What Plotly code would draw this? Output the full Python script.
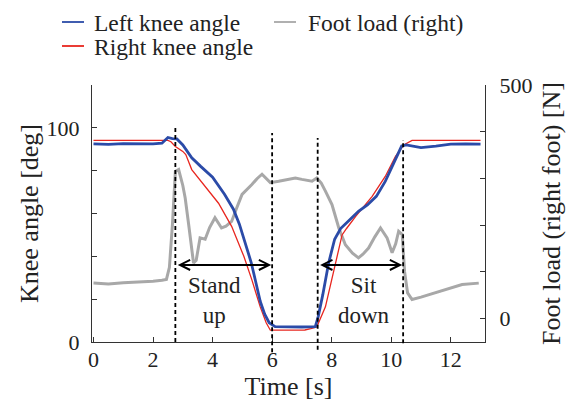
import plotly.graph_objects as go

# knee angles [deg]
left_t = [0, 0.5, 1.0, 1.5, 2.0, 2.3, 2.5, 2.65, 2.8, 3.0, 3.3, 3.6, 4.0, 4.4, 4.7, 4.9, 5.1,
          5.3, 5.45, 5.6, 5.75, 5.9, 6.1, 6.5, 7.0, 7.45, 7.55, 7.7, 7.9, 8.1, 8.3, 8.6, 8.9,
          9.2, 9.5, 9.8, 10.1, 10.35, 10.5, 11.0, 11.5, 12.0, 12.5, 13.0]
left_deg = [92.5, 92.3, 92.6, 92.4, 92.5, 92.8, 95.5, 95.0, 94.8, 92.0, 86.0, 82.0, 77.0, 69.0,
            62.0, 55.0, 46.0, 37.0, 28.0, 19.0, 13.0, 9.0, 7.2, 7.0, 7.0, 7.2, 12.0, 22.0, 37.0,
            48.0, 53.0, 57.0, 61.0, 64.0, 68.0, 75.0, 84.0, 91.5, 92.0, 90.8, 91.5, 92.4, 92.5, 92.4]

right_t = [0, 2.5, 2.6, 2.75, 3.0, 3.1, 3.3, 3.76, 4.2, 4.64, 5.05, 5.32, 5.6, 5.8, 5.94, 6.5,
           7.1, 7.3, 7.5, 7.79, 8.12, 8.35, 8.5, 8.8, 9.36, 9.8, 10.14, 10.42, 10.7, 13.0]
right_deg = [94.1, 94.1, 93.5, 91.3, 89.0, 87.5, 80.5, 72.6, 64.8, 54.0, 40.0, 29.0, 16.4, 9.0,
             5.5, 5.5, 5.6, 6.2, 7.0, 16.4, 36.7, 50.0, 53.0, 58.5, 68.0, 77.3, 86.6, 92.0, 94.1, 94.1]

# foot load [N]
load_t = [0, 0.5, 1.0, 1.5, 2.0, 2.3, 2.45, 2.55, 2.65, 2.75, 2.86, 3.0, 3.08, 3.2, 3.36, 3.45,
          3.58, 3.75, 3.9, 4.08, 4.3, 4.45, 4.64, 4.8, 4.99, 5.32, 5.5, 5.66, 5.8, 5.94, 6.22,
          6.5, 6.78, 7.0, 7.34, 7.5, 7.65, 7.79, 8.01, 8.24, 8.46, 8.7, 8.9, 9.05, 9.24, 9.45,
          9.64, 9.86, 10.03, 10.15, 10.25, 10.37, 10.45, 10.55, 10.7, 11.0, 11.26, 11.82, 12.38, 12.94]
load_n = [76, 74, 77, 78, 80, 82, 84, 110, 200, 315, 319, 285, 258, 200, 119, 125,
          173, 170, 195, 216, 194, 198, 208, 235, 266, 287, 300, 309, 300, 291, 294,
          298, 301, 298, 294, 301, 290, 273, 244, 194, 158, 140, 130, 138, 151, 175,
          194, 173, 141, 160, 187, 180, 100, 55, 41, 46, 51, 62, 73, 76]

# phase markers
phase_t = [2.75, 6.0, 7.53, 10.4]
phase_top_deg = [100.5, 97.6, 95.3, 94.3]
phase_bottom = [0.0, -0.04, -0.03, -0.005]
phase_labels = ["Stand<br>up", "Sit<br>down"]
label_t = [4.07, 9.08]

FONT = "Liberation Serif"
AX = "#333333"
W, H = 579, 403
L, R, T, B = 92, 94, 85, 61
PW, PH = W - L - R, H - T - B

series = [
    dict(name="Left knee angle", x=left_t, y=left_deg, color="#2b4ba8", width=2.8, yaxis="y2"),
    dict(name="Right knee angle", x=right_t, y=right_deg, color="#e8261f", width=1.3, yaxis="y2"),
    dict(name="Foot load (right)", x=load_t, y=load_n, color="#a8a8a8", width=3, yaxis="y"),
]

fig = go.Figure()
for s in [series[2], series[1], series[0]]:
    fig.add_trace(go.Scatter(x=s["x"], y=s["y"], mode="lines", name=s["name"],
                             line=dict(color=s["color"], width=s["width"]), yaxis=s["yaxis"]))


def px_x(px):
    return (px - L) / PW


def px_y(py):
    return (H - B - py) / PH


# legend drawn by hand: (line start px, text start px, row centre px)
legend_pos = [(62, 92, 22), (62, 92, 46), (274, 306, 22)]
for s, (lx, tx, ry) in zip(series, legend_pos):
    fig.add_shape(type="line", xref="paper", yref="paper", x0=px_x(lx), x1=px_x(lx + 22),
                  y0=px_y(ry), y1=px_y(ry), line=dict(color=s["color"], width=1.8))
    fig.add_annotation(x=px_x(tx), y=px_y(ry + 1), xref="paper", yref="paper", text=s["name"],
                       showarrow=False, xanchor="left", yanchor="middle",
                       font=dict(family=FONT, size=23.5, color="#222"))

for t, top, bot in zip(phase_t, phase_top_deg, phase_bottom):
    fig.add_shape(type="line", xref="x", yref="paper", x0=t, x1=t, y0=bot, y1=top / 120,
                  line=dict(color="black", width=1.8, dash="4px,3px"))

for (a, b), lab, lt in zip([(phase_t[0], phase_t[1]), (phase_t[2], phase_t[3])], phase_labels, label_t):
    fig.add_annotation(x=b - 0.03, y=36, ax=a + 0.03, ay=36, xref="x", yref="y2", axref="x", ayref="y2",
                       text="", showarrow=True, arrowside="end+start", arrowhead=5, startarrowhead=5,
                       arrowsize=1, startarrowsize=1, arrowwidth=2, arrowcolor="black")
    fig.add_annotation(x=lt, y=19.5, xref="x", yref="y2", text=lab, showarrow=False,
                       font=dict(family=FONT, size=23, color="#222"))

fig.update_layout(
    width=W, height=H,
    margin=dict(l=L, r=R, t=T, b=B),
    paper_bgcolor="white", plot_bgcolor="white",
    font=dict(family=FONT, size=22, color="#222"),
    showlegend=False,
    xaxis=dict(range=[-0.05, 13.15], tickvals=[0, 2, 4, 6, 8, 10, 12], ticks="inside", ticklen=5,
               tickcolor=AX, showline=True, linecolor=AX, linewidth=1, showgrid=False, zeroline=False,
               ticklabelstandoff=-2, title=dict(text="Time [s]", standoff=0)),
    yaxis=dict(side="right", range=[-50, 500], tickvals=[0, 100, 200, 300, 400, 500],
               ticktext=["0", "", "", "", "", "500"], ticks="inside", ticklen=5, tickcolor=AX,
               showline=True, linecolor=AX, linewidth=1, showgrid=False, zeroline=False,
               ticklabelstandoff=9, title=dict(text="Foot load (right foot) [N]", standoff=10)),
    yaxis2=dict(overlaying="y", side="left", range=[0, 120], tickvals=[0, 20, 40, 60, 80, 100, 120],
                ticktext=["0", "", "", "", "", "100", ""], ticks="inside", ticklen=5, tickcolor=AX,
                showline=True, linecolor=AX, linewidth=1, showgrid=False, zeroline=False,
                ticklabelstandoff=7, title=dict(text="Knee angle [deg]", standoff=0)),
)

fig.write_html("out.html", config={"displayModeBar": False},
               post_script="document.body.style.margin='0';")
